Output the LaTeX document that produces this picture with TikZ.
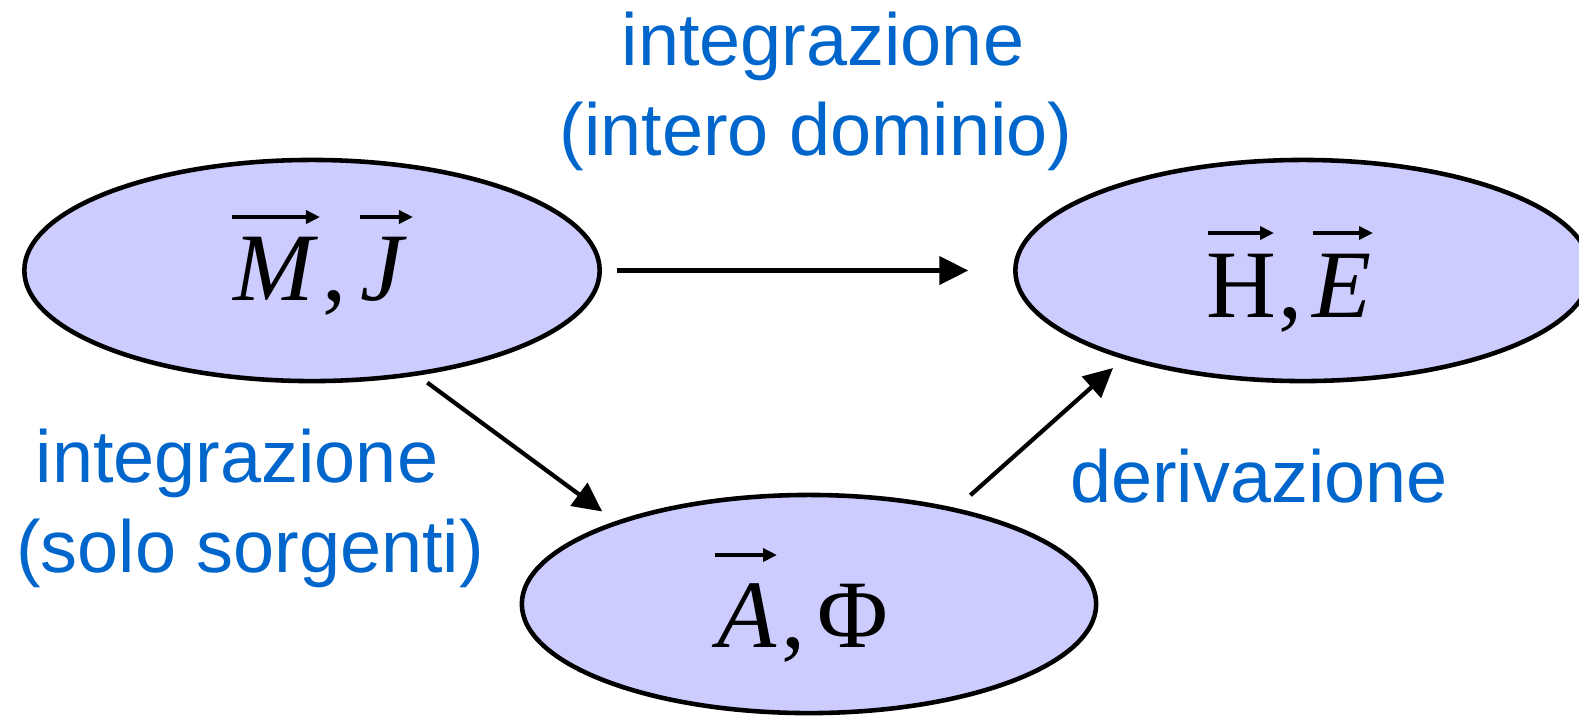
\documentclass[tikz,border=0pt]{standalone}
\usepackage{fontspec}
\setmainfont{Liberation Serif}
\newfontfamily\labfont{Liberation Sans}
\usetikzlibrary{arrows.meta,shapes.geometric}
\definecolor{ellfill}{HTML}{CCCCFF}
\definecolor{labblue}{HTML}{0066CC}
\tikzset{
  ell/.style={ellipse, draw=black, fill=ellfill, line width=1.3pt, inner sep=0pt, outer sep=0pt},
  conn/.style={draw=black, line width=1.2pt, -{Triangle[length=0.29cm,width=0.28cm]}},
  vecarr/.style={draw=black, line width=1.05pt, -{Triangle[length=0.14cm,width=0.13cm]}},
  lab/.style={anchor=base, text=labblue, inner sep=0pt, font=\labfont\fontsize{21}{25}\selectfont},
  mth/.style={anchor=base west, inner sep=0pt, font=\fontsize{27.5}{31}\selectfont}
}
\begin{document}
\begin{tikzpicture}[x=0.01cm,y=-0.01cm]
\useasboundingbox (0,0) rectangle (1579,717);
\node[ell, minimum width=5.75cm, minimum height=2.21cm] (e1) at (312,270.5) {};
\node[ell, minimum width=5.75cm, minimum height=2.21cm] (e2) at (1303,270.5) {};
\node[ell, minimum width=5.74cm, minimum height=2.18cm] (e3) at (809,604) {};

% M , J
\node[mth] (m) at (233,300) {\itshape M};
\node[mth] (c1) at (322,300) {,};
\node[mth] (j) at (360,300) {\itshape J};
\draw[vecarr] ([shift={(-1,-83)}]m.base west) -- ([shift={(87,-83)}]m.base west);
\draw[vecarr] ([shift={(0,-83)}]j.base west) -- ([shift={(53,-83)}]j.base west);

% H , E
\node[mth] (h) at (1206,317) {H};
\node[mth] (c2) at (1278,317) {,};
\node[mth] (e) at (1312,317) {\itshape E};
\draw[vecarr] ([shift={(2,-84)}]h.base west) -- ([shift={(68,-84)}]h.base west);
\draw[vecarr] ([shift={(1,-84)}]e.base west) -- ([shift={(61,-84)}]e.base west);

% A , Phi
\node[mth] (a) at (717,647) {\itshape A};
\node[mth] (c3) at (781,647) {,};
\node[mth] (phi) at (817,647) {Φ};
\draw[vecarr] ([shift={(-2,-92)}]a.base west) -- ([shift={(60,-92)}]a.base west);

\node[lab] (t1) at (823,65) {integrazione};
\node[lab] (t2) at (816,155) {(intero dominio)};
\node[lab] (t3) at (237,482) {integrazione};
\node[lab] (t4) at (250,572) {(solo sorgenti)};
\node[lab] (t5) at (1259,502) {derivazione};

\draw[conn, shorten <=0.17cm, shorten >=0.47cm] (e1.east) -- (e2.west);
\draw[conn, shorten <=0.15cm, shorten >=0.19cm] (e1.-45.8) -- (e3.157.4);
\draw[conn, shorten <=0.22cm, shorten >=0.16cm] (e3.33.4) -- (e2.206);
\end{tikzpicture}
\end{document}
